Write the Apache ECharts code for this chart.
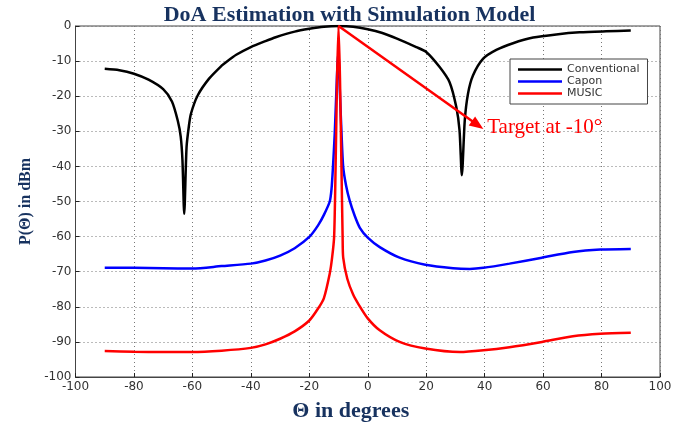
<!DOCTYPE html>
<html>
<head>
<meta charset="utf-8">
<script src="https://cdn.jsdelivr.net/npm/echarts@6/dist/echarts.min.js"></script>
<style>
  html, body { margin: 0; padding: 0; background: #fff; }
  #chart { width: 699px; height: 427px; }
</style>
</head>
<body>
<div id="chart"></div>
<script>
// values (theta in degrees, power in dBm)
const convTheta = [-90, -85, -80, -75, -70, -67, -65, -64, -63.4, -62.8, -62, -61.2, -60.5, -58.2, -54.3, -50, -48.5, -45, -40, -35, -31.5, -25, -20, -15, -10, -5, 0, 5, 10, 16.6, 20, 24.6, 28, 30.3, 31.4, 32.2, 33.2, 34.3, 36, 39.5, 44, 49.7, 56.6, 64.5, 72.5, 81.6, 90];
const convPow = [-12.2, -12.6, -13.6, -15.3, -18.0, -21.5, -27.0, -31.5, -38.3, -53.5, -34.5, -28.5, -25.0, -19.8, -15.0, -11.3, -10.3, -8.2, -6.0, -4.3, -3.2, -1.6, -0.8, -0.2, 0, -0.2, -0.9, -2.0, -3.6, -6.0, -7.4, -11.7, -16.0, -23.1, -29.7, -42.5, -26.9, -19.3, -14.1, -9.3, -6.8, -4.9, -3.3, -2.4, -1.8, -1.5, -1.3];

const caponTheta = [-90, -80, -70, -60, -50, -40, -35, -30, -25, -20, -17, -15, -13, -12.4, -11.9, -11.3, -10.8, -10.3, -10, -9.6, -9.0, -8.4, -7.4, -6.2, -4.5, -2.7, 0, 4.1, 10.9, 19.7, 29.2, 34.9, 39.6, 48.5, 59.6, 70.2, 79.6, 90];
const caponPow = [-68.9, -68.9, -69.0, -69.1, -68.4, -67.7, -66.8, -65.4, -63.3, -60.1, -56.8, -53.8, -50.0, -46.5, -40.2, -30.7, -20, -10, -8, -17.4, -30, -40.2, -45.5, -49.7, -54, -57.5, -60.3, -63.0, -66.0, -68.0, -69.0, -69.2, -68.9, -67.7, -66.0, -64.4, -63.7, -63.5];

const musicTheta = [-90, -80, -70, -60, -50, -40, -35, -30, -25, -20, -17, -15, -13, -12.2, -11.5, -11.0, -10.5, -10, -9.5, -9.0, -8.6, -8.4, -7, -5, -3, 0, 4.1, 10.9, 19.7, 31.5, 39.6, 48.5, 59.6, 70.2, 79.6, 90];
const musicPow = [-92.6, -92.8, -92.9, -92.9, -92.5, -91.7, -90.7, -89.1, -87.0, -83.9, -80.5, -77.5, -70.5, -66, -60, -40, -15, 0, -15, -40, -60, -66, -72, -76.5, -79.5, -83.3, -86.7, -90.0, -91.9, -92.9, -92.4, -91.5, -90.0, -88.4, -87.7, -87.4];

const seriesNames = ["Conventional", "Capon", "MUSIC"];
const seriesColors = ["#000000", "#0000ff", "#ff0000"];

// annotation: arrow from the target peak to the label
const arrowFrom = [-10, 0];
const arrowTo = [39.4, -29.3];
const arrowHead = [37.6, -28.2];
const targetLabel = "Target at -10\u00b0";

const xTicks = { min: -100, max: 100, step: 20 };
const yTicks = { min: -100, max: 0, step: 10 };

function zip(xs, ys) {
  return xs.map((x, i) => [x, ys[i]]);
}

const navy = "#17325f";
const gridLine = { show: true, lineStyle: { color: "#777", type: [1, 3], width: 1 } };
const tickLabel = { fontFamily: "DejaVu Sans", fontSize: 12, color: "#333" };

let chart = echarts.init(document.getElementById("chart"), null, { renderer: "canvas" });

function lineSeries(i, theta, pow, extra) {
  return Object.assign({
    name: seriesNames[i],
    type: "line",
    showSymbol: false,
    smooth: 0.25,
    color: seriesColors[i],
    lineStyle: { width: 2.5, color: seriesColors[i] },
    data: zip(theta, pow),
    z: 2 + i
  }, extra || {});
}

const option = {
  animation: false,
  backgroundColor: "#fff",
  title: {
    text: "DoA Estimation with Simulation Model",
    left: "center",
    top: -1,
    textStyle: {
      fontFamily: "Liberation Serif",
      fontWeight: "bold",
      fontSize: 22,
      color: navy
    }
  },
  grid: {
    left: 75.5,
    right: 39,
    top: 26,
    bottom: 50,
    show: true,
    borderColor: "#444",
    borderWidth: 1
  },
  legend: {
    orient: "vertical",
    left: 510,
    top: 59,
    padding: [5, 8, 5, 8],
    itemGap: 1,
    itemWidth: 44,
    itemHeight: 2.5,
    icon: "rect",
    backgroundColor: "#fff",
    borderColor: "#444",
    borderWidth: 1,
    borderRadius: 0,
    textStyle: {
      fontFamily: "DejaVu Sans",
      fontSize: 11,
      color: "#333"
    },
    data: seriesNames
  },
  xAxis: {
    type: "value",
    min: xTicks.min,
    max: xTicks.max,
    interval: xTicks.step,
    name: "\u0398 in degrees",
    nameLocation: "middle",
    nameGap: 23,
    nameTextStyle: {
      fontFamily: "Liberation Serif",
      fontWeight: "bold",
      fontSize: 22,
      color: navy,
      padding: [0, 34, 0, 0]
    },
    axisLine: { show: true, onZero: false, lineStyle: { color: "#444", width: 1 } },
    axisTick: { show: true, inside: true, length: 4, lineStyle: { color: "#222" } },
    axisLabel: Object.assign({ margin: 4 }, tickLabel),
    splitLine: gridLine
  },
  yAxis: {
    type: "value",
    min: yTicks.min,
    max: yTicks.max,
    interval: yTicks.step,
    name: "P(\u0398) in dBm",
    nameLocation: "middle",
    nameGap: 41,
    nameRotate: 90,
    nameTextStyle: {
      fontFamily: "Liberation Serif",
      fontWeight: "bold",
      fontSize: 16,
      color: navy
    },
    axisLine: { show: true, onZero: false, lineStyle: { color: "#444", width: 1 } },
    axisTick: { show: true, inside: true, length: 4, lineStyle: { color: "#222" } },
    axisLabel: Object.assign({ margin: 4 }, tickLabel),
    splitLine: gridLine
  },
  series: [
    lineSeries(0, convTheta, convPow),
    lineSeries(1, caponTheta, caponPow),
    lineSeries(2, musicTheta, musicPow, {
      markLine: {
        silent: true,
        symbol: ["none", "none"],
        lineStyle: { color: "#ff0000", width: 2.5, type: "solid" },
        label: { show: false },
        data: [[{ coord: arrowFrom }, { coord: arrowHead }]]
      },
      markPoint: {
        silent: true,
        data: [
          {
            coord: arrowHead,
            symbol: "triangle",
            symbolSize: [11, 14],
            symbolRotate: -125.3,
            itemStyle: { color: "#ff0000" },
            label: { show: false }
          },
          {
            coord: [arrowTo[0] + 0.8, arrowTo[1] + 0.5],
            symbol: "circle",
            symbolSize: 0,
            label: {
              show: true,
              position: "right",
              distance: 2,
              formatter: targetLabel,
              fontFamily: "Liberation Serif",
              fontSize: 21,
              color: "#ff0000"
            }
          }
        ]
      }
    })
  ]
};

chart.setOption(option);
</script>
</body>
</html>
